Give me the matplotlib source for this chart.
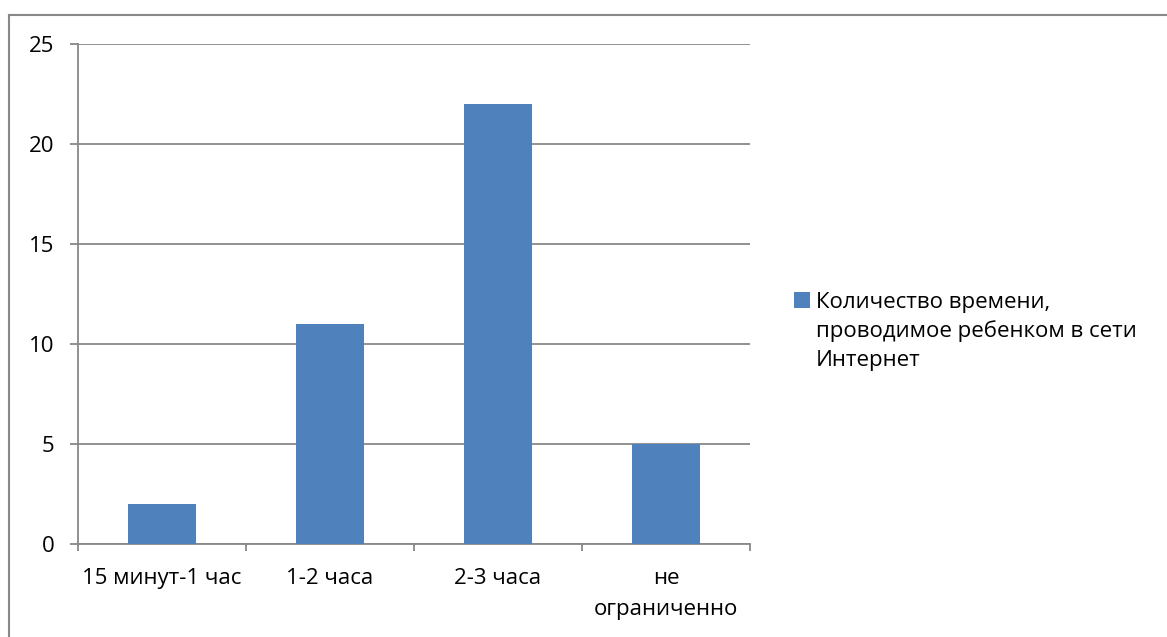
import matplotlib.pyplot as plt
from matplotlib.lines import Line2D

plt.rcParams['font.family'] = ['Open Sans', 'DejaVu Sans']

categories = ['15 минут-1 час', '1-2 часа', '2-3 часа', 'не\nограниченно']
values = [2, 11, 22, 5]
series_name = 'Количество времени,\nпроводимое ребенком в сети\nИнтернет'
y_ticks = [0, 5, 10, 15, 20, 25]

W, H = 1167, 637
fs = 16
gray = '#888888'
fig = plt.figure(figsize=(W / 100, H / 100), dpi=100)

# outer frame (only top and left edges visible)
fig.add_artist(Line2D([9 / W, 9 / W], [0, 1 - 15 / H], transform=fig.transFigure,
                      color=gray, lw=1.5))
fig.add_artist(Line2D([9 / W, 1], [1 - 15 / H, 1 - 15 / H], transform=fig.transFigure,
                      color=gray, lw=1.5))

ax = fig.add_axes([78 / W, 1 - 544 / H, (750 - 78) / W, (544 - 44) / H])
x = range(len(categories))
bars = ax.bar(x, values, width=0.4, color='#4f81bd', label=series_name, zorder=3)

ax.set_xlim(-0.5, len(categories) - 0.5)
ax.set_ylim(0, 25)
ax.set_yticks(y_ticks)
ax.set_yticklabels([str(t) for t in y_ticks], fontsize=fs)
ax.yaxis.grid(True, color=gray, lw=1.3, zorder=0)
ax.tick_params(axis='y', length=6, width=1.3, color=gray, pad=11)

ax.set_xticks([i + 0.5 for i in range(-1, len(categories))])
ax.set_xticklabels([])
ax.set_xticks(list(x), minor=True)
ax.set_xticklabels(categories, minor=True, fontsize=fs, linespacing=1.65)
ax.tick_params(axis='x', which='major', length=5, width=1.3, color=gray)
ax.tick_params(axis='x', which='minor', length=0, pad=17)

for side in ['top', 'right']:
    ax.spines[side].set_visible(False)
for side in ['left', 'bottom']:
    ax.spines[side].set_color(gray)
    ax.spines[side].set_linewidth(1.3)

leg = fig.legend(handles=[bars], labels=[series_name], loc='upper left',
                 bbox_to_anchor=(774 / W, 1 - 272 / H), frameon=False, fontsize=fs,
                 handlelength=0.7, handleheight=0.7, handletextpad=0.3)
leg.get_texts()[0].set_linespacing(1.45)
# put the colour square next to the first line of the label
for col in leg._legend_handle_box.get_children():
    for item in col.get_children():
        item.align = 'top'

fig.savefig('out.png', dpi=100)
